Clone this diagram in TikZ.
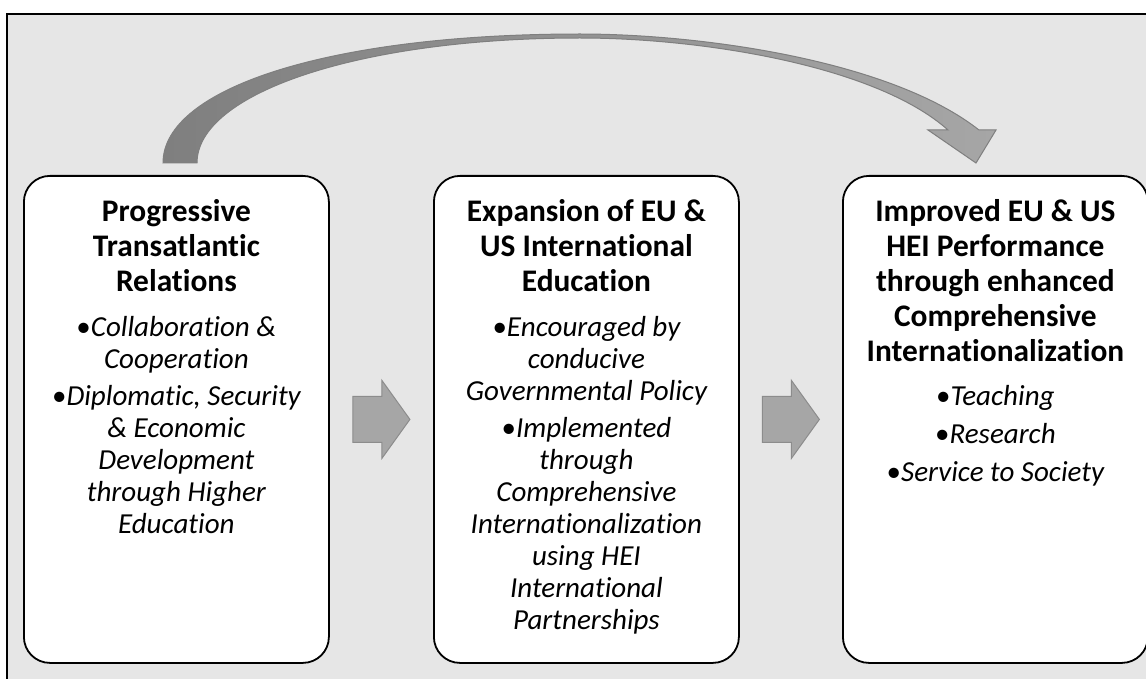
\documentclass[tikz,border=0pt]{standalone}
\usepackage{fontspec}
\setmainfont{Carlito}[Ligatures={NoCommon},Contextuals={NoAlternate}]
\usetikzlibrary{calc}
\definecolor{bgc}{HTML}{E6E6E6}
\definecolor{arrfill}{HTML}{A6A6A6}
\definecolor{arrline}{HTML}{8C8C8C}
\definecolor{darkarr}{HTML}{7F7F7F}
\begin{document}
\begin{tikzpicture}[x=1pt,y=-1pt,
  stagebox/.style={draw=black,line width=1.8pt,fill=white,rounded corners=26pt,
    minimum width=305pt,minimum height=487pt,anchor=north west,inner sep=0pt},
  titletext/.style={anchor=north,align=center,inner sep=0pt,
    font=\fontsize{31.4}{35}\selectfont\bfseries},
  bullettext/.style={anchor=north,align=center,inner sep=0pt,
    font=\fontsize{29}{32}\selectfont\itshape},
  blockarrow/.style={draw=arrline,fill=arrfill,line width=1pt,line join=miter}]
\useasboundingbox (0,0) rectangle (1146,679);
\clip (0,0) rectangle (1146,679);
\fill[white] (0,0) rectangle (1146,679);
\draw[fill=bgc,line width=1.3pt] (7,14) rectangle (1170,700);

% curved arrow
\draw[left color=darkarr,right color=arrfill,draw=darkarr,line width=1pt,line join=miter]
  (163,163) .. controls (163,88) and (330,34) .. (580,34)
  .. controls (700,34) and (890,60) .. (979,130)
  -- (996,130) -- (976,163) -- (928,130) -- (948,130)
  .. controls (875,65) and (700,38) .. (580,38)
  .. controls (360,38) and (197,93) .. (197,163) -- cycle;

% boxes
\node[stagebox] (b1) at (23,175) {};
\node[stagebox] (b2) at (433,175) {};
\node[stagebox] (b3) at (842,175) {};

% block arrows
\coordinate (a1) at ($(b1.east)!0.5!(b2.west)$);
\coordinate (a2) at ($(b2.east)!0.5!(b3.west)$);
\foreach \a in {a1,a2}{
  \draw[blockarrow] ($(\a)+(-28.5,-23)$) -- ($(\a)+(0.5,-23)$) -- ($(\a)+(0.5,-39)$)
    -- ($(\a)+(28.5,0)$) -- ($(\a)+(0.5,39)$) -- ($(\a)+(0.5,23)$)
    -- ($(\a)+(-28.5,23)$) -- cycle;
}

% texts
\node[titletext] (t1) at ([yshift=-19pt]b1.north) {\rule{0pt}{27pt}Progressive\\Transatlantic\\Relations};
\node[bullettext] (l1) at ([yshift=-137.7pt]b1.north) {\rule{0pt}{24pt}{\upshape •}Collaboration \&\\Cooperation\\[5pt]{\upshape •}Diplomatic, Security\\\& Economic\\Development\\through Higher\\Education};

\node[titletext] (t2) at ([yshift=-19pt]b2.north) {\rule{0pt}{27pt}Expansion of EU \&\\US International\\Education};
\node[bullettext] (l2) at ([yshift=-137.7pt]b2.north) {\rule{0pt}{24pt}{\upshape •}Encouraged by\\conducive\\Governmental Policy\\[5pt]{\upshape •}Implemented\\through\\Comprehensive\\Internationalization\\using HEI\\International\\Partnerships};

\node[titletext] (t3) at ([yshift=-19pt]b3.north) {\rule{0pt}{27pt}Improved EU \& US\\HEI Performance\\through enhanced\\Comprehensive\\Internationalization};
\node[bullettext] (l3) at ([yshift=-206pt]b3.north) {\rule{0pt}{24pt}{\upshape •}Teaching\\[6pt]{\upshape •}Research\\[6pt]{\upshape •}Service to Society};
\end{tikzpicture}
\end{document}
